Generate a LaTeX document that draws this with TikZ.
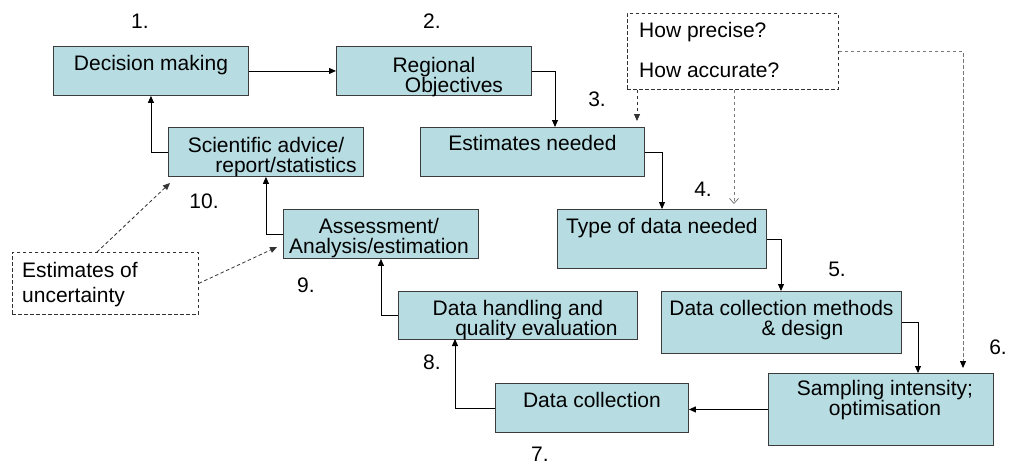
\documentclass[tikz,border=0pt]{standalone}
\usepackage{fontspec}
\setmainfont{Liberation Sans}
\usetikzlibrary{arrows.meta,calc}
\definecolor{boxfill}{RGB}{183,221,226}
\definecolor{boxline}{RGB}{60,60,60}
\definecolor{dashdark}{RGB}{50,50,50}
\definecolor{dashgray}{RGB}{120,120,120}
\begin{document}
\begin{tikzpicture}[x=1pt,y=-1pt,
  box/.style={draw=boxline, line width=0.9pt, fill=boxfill, inner sep=0pt, anchor=north west},
  dbox/.style={draw=dashdark, line width=0.8pt, dash pattern=on 3.5pt off 2.5pt, inner sep=0pt, anchor=north west},
  txt/.style={font=\fontsize{21}{20.5}\selectfont, align=center, inner sep=0pt, anchor=north},
  ltxt/.style={font=\fontsize{21}{#1}\selectfont, align=left, inner sep=0pt, anchor=north west},
  num/.style={font=\fontsize{21}{21}\selectfont, inner sep=0pt},
  conn/.style={draw=black, line width=0.9pt, -{Triangle[length=7pt,width=6pt]}},
  dconn/.style={draw=dashdark, line width=0.8pt, dash pattern=on 3.5pt off 2.5pt, -{Triangle[length=7pt,width=6pt]}},
  gconn/.style={draw=dashgray, line width=0.8pt, dash pattern=on 3.5pt off 2.5pt},
]
\useasboundingbox (0,0) rectangle (1009,464);

% boxes
\node[box, minimum width=195pt, minimum height=49pt] (b1) at (53,46) {};
\node[box, minimum width=195pt, minimum height=49pt] (b2) at (336,46) {};
\node[box, minimum width=224pt, minimum height=49pt] (b3) at (420,127) {};
\node[box, minimum width=209pt, minimum height=59pt] (b4) at (557,209) {};
\node[box, minimum width=240pt, minimum height=62pt] (b5) at (661,291) {};
\node[box, minimum width=225pt, minimum height=72pt] (b6) at (768,373) {};
\node[box, minimum width=193pt, minimum height=49pt] (b7) at (495,383) {};
\node[box, minimum width=239pt, minimum height=48pt] (b8) at (398,291) {};
\node[box, minimum width=195pt, minimum height=49pt] (b9) at (283,209) {};
\node[box, minimum width=195pt, minimum height=49pt] (b10) at (168,127) {};
\node[dbox, minimum width=186pt, minimum height=62pt] (u) at (12,252) {};
\node[dbox, minimum width=211pt, minimum height=76pt] (h) at (627,13) {};

% box texts
\node[txt] (t1) at ($(b1.north)+(0,9)$) {Decision making};
\node[txt] (t2) at ($(b2.north)+(0,11)$) {Regional\\\hspace*{40pt}Objectives};
\node[txt] (t3) at ($(b3.north)+(0,8)$) {Estimates needed};
\node[txt] (t4) at ($(b4.north)+(0,9)$) {Type of data needed};
\node[txt] (t5) at ($(b5.north)+(0,9)$) {Data collection methods\\\hspace*{42pt}\& design};
\node[txt] (t6) at ($(b6.north)+(4,7)$) {Sampling intensity;\\optimisation};
\node[txt] (t7) at ($(b7.north)+(0,9)$) {Data collection};
\node[txt] (t8) at ($(b8.north)+(0,9)$) {Data handling and\\\hspace*{37pt}quality evaluation};
\node[txt] (t9) at ($(b9.north)+(-2,9)$) {Assessment/\\Analysis/estimation};
\node[txt] (t10) at ($(b10.north)+(0,10)$) {Scientific advice/\\\hspace*{40pt}report/statistics};
\node[ltxt=25] (tu) at (22,262) {Estimates of\\uncertainty};
\node[ltxt=40] (th) at (639,22) {How precise?\\How accurate?};

% step numbers
\node[num] (n1) at (140,21) {1.};
\node[num] (n2) at (432,21) {2.};
\node[num] (n3) at (597,99) {3.};
\node[num] (n4) at (703,189) {4.};
\node[num] (n5) at (837,269) {5.};
\node[num] (n6) at (998,347) {6.};
\node[num] (n7) at (540,454) {7.};
\node[num] (n8) at (432,362) {8.};
\node[num] (n9) at (306,285) {9.};
\node[num] (n10) at (204,201) {10.};

% connector end points
\coordinate (c23) at (555,127);
\coordinate (c34) at (662,209);
\coordinate (c45) at (781,291);
\coordinate (c56) at (918,373);
\coordinate (c78) at (455,339);
\coordinate (e3) at (637,121);
\coordinate (e4) at (734,204);
\coordinate (e6) at (963,368);
\coordinate (su1) at (97,252);
\coordinate (eu1) at (170,183);
\coordinate (eu2) at (277,247);

% solid flow
\draw[conn] (b1.east) -- (b2.west);
\draw[conn] (b2.east) -| (c23);
\draw[conn] (b3.east) -| (c34);
\draw[conn] (b4.east) -| (c45);
\draw[conn] (b5.east) -| (c56);
\draw[conn] (b6.west) -- (b7.east |- b6.west);
\draw[conn] (b7.west) -| (c78);
\draw[conn] (b8.west) -| (b9.south);
\draw[conn] (b9.west) -| (b10.south);
\draw[conn] (b10.west) -| (b1.south);

% dashed
\draw[dconn] (h.south -| e3) -- (e3);
\draw[gconn, -{Straight Barb[length=5pt,width=9pt]}] (h.south -| e4) -- (e4);
\draw[gconn, -{Triangle[length=7pt,width=6pt,color=black]}] (h.east) -| (e6);
\draw[dconn] (su1) -- (eu1);
\draw[dconn] (u.east) -- (eu2);
\end{tikzpicture}
\end{document}
